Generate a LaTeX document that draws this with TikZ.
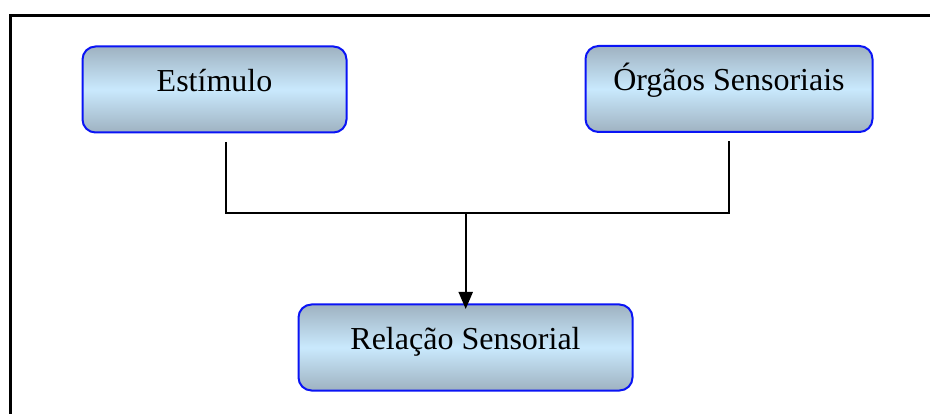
\documentclass[tikz,border=0pt]{standalone}
\usepackage{fontspec}
\setmainfont{Liberation Serif}
\usetikzlibrary{arrows.meta}
\definecolor{boxdark}{HTML}{9FB2C1}
\definecolor{boxlight}{HTML}{C9E9FD}
\definecolor{boxedge}{HTML}{0A14F5}
\tikzset{
  stagebox/.style={draw=boxedge, line width=2pt, rounded corners=13pt,
    top color=boxdark, bottom color=boxdark, middle color=boxlight,
    inner sep=0pt, minimum height=86pt, text height=45pt, text depth=41pt,
    font=\fontsize{32}{32}\selectfont},
  conn/.style={line width=2pt, black},
}
\begin{document}
\begin{tikzpicture}[x=1pt,y=-1pt]
\useasboundingbox (0,0) rectangle (930,414);
% outer frame (open to the right and bottom)
\draw[line width=2.2pt] (10.5,414) -- (10.5,15.5) -- (930,15.5);
% stages
\node[stagebox, minimum width=264pt] (est) at (214.5,89.5) {Estímulo};
\node[stagebox, minimum width=287pt] (org) at (729,89) {Órgãos Sensoriais};
\node[stagebox, minimum width=334pt] (rel) at (465.5,347.5) {Relação Sensorial};
% connector ends
\coordinate (a) at (226,142);
\coordinate (b) at (729,141);
\coordinate (j) at (465.7,213.5);
\coordinate (t) at (465.7,309);
\draw[conn] (a) -- (a |- j) -- (b |- j) -- (b);
\draw[conn, -{Triangle[length=17pt, width=14pt]}] (j) -- (t);
\end{tikzpicture}
\end{document}
